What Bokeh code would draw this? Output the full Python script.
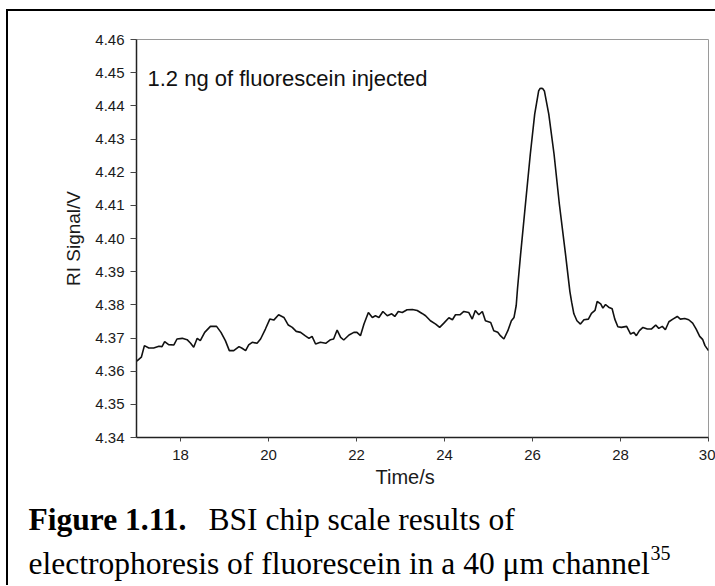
from bokeh.plotting import figure
from bokeh.layouts import column
from bokeh.models import Label, Title, FixedTicker, NumeralTickFormatter, Range1d, ColumnDataSource
from bokeh.embed import file_html
from bokeh.resources import INLINE

# ---- data ----
time_s = [17.00, 17.02, 17.11, 17.18, 17.28, 17.39, 17.51, 17.58, 17.64, 17.73, 17.85, 17.92,
          18.04, 18.15, 18.23, 18.30, 18.38, 18.45, 18.55, 18.68, 18.82, 18.92, 19.02, 19.11,
          19.21, 19.33, 19.40, 19.48, 19.55, 19.63, 19.74, 19.82, 19.93, 20.03, 20.12, 20.23,
          20.35, 20.45, 20.54, 20.63, 20.73, 20.83, 20.92, 20.99, 21.07, 21.18, 21.30, 21.41,
          21.48, 21.56, 21.64, 21.71, 21.83, 21.94, 22.01, 22.09, 22.17, 22.27, 22.36, 22.43,
          22.51, 22.60, 22.70, 22.80, 22.87, 22.95, 23.04, 23.15, 23.27, 23.38, 23.49, 23.57,
          23.68, 23.80, 23.89, 23.98, 24.10, 24.18, 24.25, 24.35, 24.44, 24.55, 24.63, 24.70,
          24.78, 24.86, 24.93, 25.05, 25.12, 25.21, 25.27, 25.35, 25.44, 25.52, 25.58, 25.63,
          25.66, 25.73, 25.84, 25.95, 26.05, 26.14, 26.17, 26.20, 26.23, 26.27, 26.37, 26.49,
          26.61, 26.75, 26.85, 26.89, 26.94, 27.01, 27.09, 27.17, 27.27, 27.34, 27.42, 27.47,
          27.55, 27.60, 27.66, 27.73, 27.81, 27.87, 27.94, 28.02, 28.14, 28.23, 28.30, 28.36,
          28.43, 28.51, 28.61, 28.70, 28.80, 28.87, 28.95, 29.02, 29.10, 29.19, 29.29, 29.36,
          29.46, 29.55, 29.64, 29.72, 29.80, 29.87, 29.92, 30.00]
signal_v = [4.3630, 4.3632, 4.3642, 4.3677, 4.3670, 4.3670, 4.3675, 4.3674, 4.3689, 4.3680, 4.3679, 4.3697,
            4.3699, 4.3695, 4.3684, 4.3672, 4.3699, 4.3692, 4.3717, 4.3735, 4.3735, 4.3717, 4.3692, 4.3662,
            4.3662, 4.3674, 4.3669, 4.3662, 4.3679, 4.3687, 4.3684, 4.3697, 4.3727, 4.3757, 4.3754, 4.3770,
            4.3762, 4.3739, 4.3732, 4.3720, 4.3717, 4.3707, 4.3699, 4.3705, 4.3682, 4.3687, 4.3684, 4.3695,
            4.3697, 4.3724, 4.3702, 4.3694, 4.3709, 4.3717, 4.3717, 4.3707, 4.3742, 4.3777, 4.3762, 4.3767,
            4.3762, 4.3780, 4.3767, 4.3773, 4.3765, 4.3780, 4.3777, 4.3785, 4.3786, 4.3783, 4.3774, 4.3767,
            4.3752, 4.3742, 4.3732, 4.3744, 4.3761, 4.3755, 4.3770, 4.3770, 4.3780, 4.3777, 4.3757, 4.3783,
            4.3770, 4.3780, 4.3752, 4.3747, 4.3722, 4.3717, 4.3707, 4.3697, 4.3722, 4.3752, 4.3762, 4.3798,
            4.3850, 4.3953, 4.4104, 4.4254, 4.4375, 4.4445, 4.4452, 4.4453, 4.4452, 4.4445, 4.4375, 4.4254,
            4.4104, 4.3953, 4.3840, 4.3808, 4.3773, 4.3752, 4.3742, 4.3755, 4.3757, 4.3774, 4.3783, 4.3810,
            4.3803, 4.3790, 4.3801, 4.3793, 4.3788, 4.3757, 4.3734, 4.3732, 4.3735, 4.3712, 4.3717, 4.3707,
            4.3722, 4.3732, 4.3727, 4.3727, 4.3739, 4.3729, 4.3735, 4.3725, 4.3749, 4.3757, 4.3765, 4.3757,
            4.3759, 4.3755, 4.3745, 4.3727, 4.3705, 4.3695, 4.3677, 4.3662]
x_ticks = [18, 20, 22, 24, 26, 28, 30]
y_ticks = [4.34, 4.35, 4.36, 4.37, 4.38, 4.39, 4.40, 4.41, 4.42, 4.43, 4.44, 4.45, 4.46]
annotation_text = "1.2 ng of fluorescein injected"
x_label = "Time/s"
y_label = "RI Signal/V"
caption_bold = "Figure 1.11."
caption_line1 = "BSI chip scale results of"
caption_line2 = "electrophoresis of fluorescein in a 40 \u03bcm channel"
caption_sup = "35"

# ---- layout (page pixels) ----
W, H = 715, 586
OX, OY = 8, 11                 # content origin inside the outer black border
FL, FR, FT, FB = 136, 708, 39, 437   # frame edges on the page
SPLIT = 495                    # page y where the caption block starts
MW, MH = W - OX, SPLIT - OY
CH = 90
CAP_DY = -9                    # empirical baseline correction for caption labels

p = figure(width=MW, height=MH, output_backend="svg", toolbar_location=None,
           x_range=Range1d(17, 30), y_range=Range1d(4.34, 4.46),
           min_border_left=FL - OX, min_border_right=W - FR, min_border_top=FT - OY,
           min_border_bottom=MH - (FB - OY))
p.frame_align = False
p.background_fill_color = "white"
p.border_fill_color = "white"
p.grid.visible = False
p.outline_line_color = "#9a9a9a"
p.outline_line_width = 1

src = ColumnDataSource(dict(t=time_s, s=signal_v))
p.line("t", "s", source=src, line_color="#111111", line_width=1.6)

p.xaxis.ticker = FixedTicker(ticks=x_ticks)
p.yaxis.ticker = FixedTicker(ticks=y_ticks)
p.yaxis.formatter = NumeralTickFormatter(format="0.00")
for ax in (p.xaxis[0], p.yaxis[0]):
    ax.axis_line_color = "#222222"
    ax.axis_line_width = 1.5
    ax.major_tick_line_color = "#444444"
    ax.major_tick_in = 0
    ax.minor_tick_line_color = None
    ax.major_label_text_font = "Liberation Sans"
    ax.major_label_text_font_size = "15px"
    ax.major_label_text_color = "#1a1a1a"
    ax.axis_label_text_font = "Liberation Sans"
    ax.axis_label_text_font_size = "19px"
    ax.axis_label_text_font_style = "normal"
    ax.axis_label_text_color = "#1a1a1a"
p.xaxis.major_tick_out = 4
p.yaxis.major_tick_out = 6
p.xaxis.major_label_standoff = 8
p.yaxis.major_label_standoff = 6
p.yaxis.axis_label = y_label
p.yaxis.axis_label_standoff = 8

xt = Title(text=x_label, align="left", offset=375 - FL, standoff=3,
           text_font="Liberation Sans", text_font_size="20px", text_font_style="normal",
           text_color="#1a1a1a")
p.add_layout(xt, "below")

p.add_layout(Label(x=147 - FL, y=FB - 78, x_units="screen", y_units="screen", text=annotation_text,
                   text_font="Liberation Sans", text_font_size="22px", text_color="#111111",
                   text_baseline="alphabetic", text_align="left"))

# ---- caption block ----
cap = figure(width=MW, height=CH, output_backend="svg", toolbar_location=None,
             x_range=Range1d(0, MW), y_range=Range1d(CH, 0),
             x_axis_type=None, y_axis_type=None, min_border=0)
cap.frame_align = False
cap.grid.visible = False
cap.outline_line_color = None
cap.background_fill_color = "white"
cap.border_fill_color = "white"

def cap_label(text, px, py, size, style="normal"):
    return Label(x=px - OX, y=py - SPLIT + CAP_DY, text=text, text_font="Liberation Serif",
                 text_font_size=size, text_font_style=style, text_color="#000000",
                 text_baseline="alphabetic", text_align="left")

cap.add_layout(cap_label(caption_bold, 28, 528, "31.5px", "bold"))
cap.add_layout(cap_label(caption_line1, 208, 528, "31.5px"))
cap.add_layout(cap_label(caption_line2, 28, 572, "31.5px"))
cap.add_layout(cap_label(caption_sup, 650, 561, "20px"))

layout = column(p, cap, spacing=0, margin=(OY - 2, 0, 0, OX - 2),
                styles={"border-left": "2px solid black", "border-top": "2px solid black"})

open("out.html", "w").write(file_html(layout, INLINE))
